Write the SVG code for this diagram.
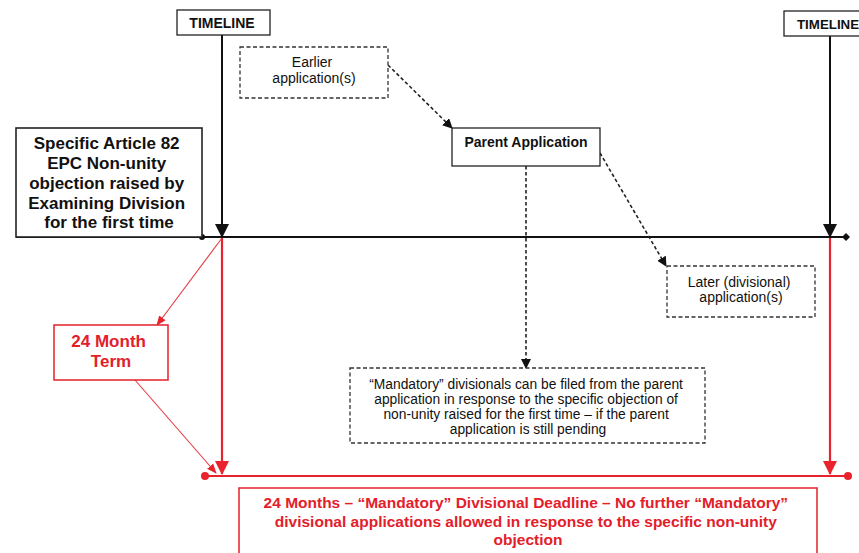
<svg xmlns="http://www.w3.org/2000/svg" width="859" height="553" viewBox="0 0 859 553">
<style>
text{font-family:"Liberation Sans",Arial,sans-serif;text-anchor:middle}
.b{font-weight:bold}
.blk{fill:#111}
.red{fill:#e3202a}
.box{fill:#fff;stroke:#222;stroke-width:1.3}
.dbox{fill:#fff;stroke:#333;stroke-width:1.3;stroke-dasharray:4,2.5}
.rbox{fill:#fff;stroke:#e3202a;stroke-width:1.5}
.tl{stroke:#111;stroke-width:2;fill:none}
.dl{stroke:#222;stroke-width:1.6;stroke-dasharray:3.5,2.5;fill:none}
.rl{stroke:#e8232d;stroke-width:2.2;fill:none}
.rt{stroke:#e4393f;stroke-width:1.1;fill:none}
</style>
<defs>
<marker id="ab" markerWidth="10" markerHeight="10" refX="9" refY="5" orient="auto" markerUnits="userSpaceOnUse"><path d="M0,0 L10,5 L0,10z" fill="#111"/></marker>
<marker id="abig" markerWidth="14" markerHeight="14" refX="13" refY="7" orient="auto" markerUnits="userSpaceOnUse"><path d="M0,0 L14,7 L0,14z" fill="#111"/></marker>
<marker id="rbig" markerWidth="14" markerHeight="14" refX="13" refY="7" orient="auto" markerUnits="userSpaceOnUse"><path d="M0,0 L14,7 L0,14z" fill="#e8232d"/></marker>
<marker id="rs" markerWidth="10" markerHeight="10" refX="9" refY="5" orient="auto" markerUnits="userSpaceOnUse"><path d="M0,1 L10,5 L0,9z" fill="#e8232d"/></marker>
</defs>

<g id="connectors">
  <line class="tl" x1="16" y1="237" x2="846" y2="237"/>
  <circle cx="202" cy="237" r="3" fill="#111"/>
  <path d="M842,237 l4,-4 l4,4 l-4,4z" fill="#111"/>
  <line class="tl" x1="222" y1="35" x2="222" y2="237" marker-end="url(#abig)"/>
  <line class="tl" x1="830" y1="36" x2="830" y2="237" marker-end="url(#abig)"/>
  <line class="dl" x1="388" y1="65" x2="452" y2="128" marker-end="url(#ab)"/>
  <line class="dl" x1="526" y1="166" x2="526" y2="368" marker-end="url(#ab)"/>
  <line class="dl" x1="600" y1="153" x2="666" y2="266" marker-end="url(#ab)"/>
  <line class="rl" x1="205" y1="476" x2="848" y2="476"/>
  <circle cx="205" cy="476" r="4" fill="#e8232d"/>
  <circle cx="848" cy="476" r="4" fill="#e8232d"/>
  <line class="rl" x1="222" y1="238" x2="222" y2="474" marker-end="url(#rbig)"/>
  <line class="rl" x1="830" y1="238" x2="830" y2="474" marker-end="url(#rbig)"/>
  <line class="rt" x1="222" y1="238" x2="157" y2="325" marker-end="url(#rs)"/>
  <line class="rt" x1="135" y1="380" x2="216" y2="473" marker-end="url(#rs)"/>
</g>

<g id="timeline-left">
  <rect class="box" x="177" y="10" width="93" height="25"/>
  <text class="b blk" x="222" y="27.5" font-size="14">TIMELINE</text>
</g>
<g id="timeline-right">
  <rect class="box" x="784" y="11" width="80" height="25"/>
  <text class="b blk" x="797" y="28.5" font-size="13.3" style="text-anchor:start">TIMELINE</text>
</g>
<g id="objection">
  <rect class="box" x="16" y="128" width="186" height="109" style="stroke-width:1.6"/>
  <text class="b blk" font-size="17" x="109">
    <tspan x="109" y="149">Specific Article 82</tspan>
    <tspan x="109" y="169">EPC Non-unity</tspan>
    <tspan x="109" y="189">objection raised by</tspan>
    <tspan x="109" y="209">Examining Division</tspan>
    <tspan x="109" y="228">for the first time</tspan>
  </text>
</g>
<g id="earlier">
  <rect class="dbox" x="240" y="47" width="148" height="51"/>
  <text class="blk" font-size="14" x="314">
    <tspan x="314" y="67">Earlier</tspan>
    <tspan x="314" y="83">application(s)</tspan>
  </text>
</g>
<g id="parent">
  <rect class="box" x="452" y="128" width="148" height="38"/>
  <text class="b blk" font-size="14" x="526" y="147">Parent Application</text>
</g>
<g id="later">
  <rect class="dbox" x="667" y="266" width="148" height="51"/>
  <text class="blk" font-size="14" x="741">
    <tspan x="741" y="287">Later (divisional)</tspan>
    <tspan x="741" y="302">application(s)</tspan>
  </text>
</g>
<g id="mandatory">
  <rect class="dbox" x="350" y="368" width="355" height="75"/>
  <text class="blk" font-size="13.8" x="528">
    <tspan x="528" y="389">“Mandatory” divisionals can be filed from the parent</tspan>
    <tspan x="528" y="404">application in response to the specific objection of</tspan>
    <tspan x="528" y="419">non-unity raised for the first time – if  the parent</tspan>
    <tspan x="528" y="434">application is still pending</tspan>
  </text>
</g>
<g id="term">
  <rect class="rbox" x="54" y="325" width="114" height="55"/>
  <text class="b red" font-size="17" x="111">
    <tspan x="111" y="347">24 Month</tspan>
    <tspan x="111" y="367">Term</tspan>
  </text>
</g>
<g id="deadline">
  <rect class="rbox" x="239" y="488" width="578" height="70"/>
  <text class="b red" font-size="15.5" x="528">
    <tspan x="528" y="508">24 Months – “Mandatory” Divisional Deadline – No further “Mandatory”</tspan>
    <tspan x="528" y="527">divisional applications allowed in response to the specific non-unity</tspan>
    <tspan x="528" y="545">objection</tspan>
  </text>
</g>
</svg>
